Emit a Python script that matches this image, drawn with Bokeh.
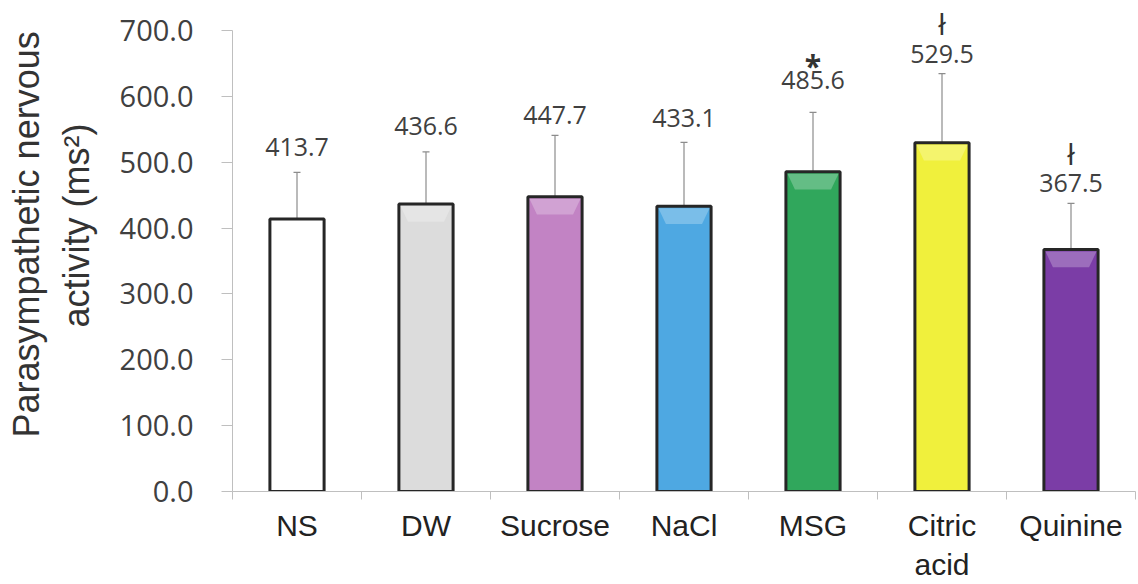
from bokeh.plotting import figure
from bokeh.models import (ColumnDataSource, Whisker, TeeHead, FixedTicker, Title,
                          Range1d, NumeralTickFormatter)
from bokeh.core.properties import value
from bokeh.embed import file_html
from bokeh.resources import INLINE

# ---------------- data ----------------
categories = ["NS", "DW", "Sucrose", "NaCl", "MSG", "Citric acid", "Quinine"]
tick_labels = ["NS", "DW", "Sucrose", "NaCl", "MSG", "Citric\nacid", "Quinine"]
means = [413.7, 436.6, 447.7, 433.1, 485.6, 529.5, 367.5]
errors = [71, 79, 93, 97, 90, 105, 70]
significance = ["", "", "", "", "*", "ł", "ł"]
y_ticks = [0, 100, 200, 300, 400, 500, 600, 700]

# ---------------- style ----------------
bar_colors = ["#ffffff", "#dcdcdc", "#c283c4", "#4ea8e2", "#30a75c", "#f0f03c", "#7b3da6"]
label_gap = [25, 26, 20, 24, 32, 20, 20]     # px between error cap and value label
sig_gap = [0, 0, 0, 0, 47, 50, 50]           # px between error cap and marker
sig_style = ["normal", "normal", "normal", "normal", "bold", "normal", "normal"]
bar_width = 0.42

x = [i + 0.5 for i in range(len(categories))]
upper = [m + e for m, e in zip(means, errors)]

src = ColumnDataSource(dict(
    x=x, cat=categories, mean=means, lower=means, upper=upper, color=bar_colors,
    label=[f"{m:.1f}" for m in means],
    label_off=[-g for g in label_gap],
    sig=significance,
    sig_off=[-g for g in sig_gap],
    sig_style=sig_style,
))

p = figure(width=1138, height=584, x_range=Range1d(0, len(categories)),
           y_range=Range1d(0, 741), output_backend="svg", toolbar_location=None,
           min_border_left=232, min_border_right=3, min_border_top=3,
           min_border_bottom=92, outline_line_color=None,
           background_fill_color="white", border_fill_color="white")

p.xgrid.visible = False
p.ygrid.visible = False

# bars
p.vbar(x="x", top="mean", bottom=0, width=bar_width, source=src,
       fill_color="color", line_color="#262626", line_width=3)

# bevel highlight at the top of each bar (derived from the bar geometry)
half, edge, inner, depth, pad = bar_width / 2, 0.012, 0.07, 24, 3
hl_xs = [[xi - half + edge, xi + half - edge, xi + half - inner, xi - half + inner] for xi in x]
hl_ys = [[m - pad, m - pad, m - pad - depth, m - pad - depth] for m in means]
p.patches(xs=hl_xs, ys=hl_ys, fill_color="white", fill_alpha=0.25, line_color=None)

# error bars (upper only)
p.add_layout(Whisker(source=src, base="x", lower="lower", upper="upper",
                     line_color="#8c8c8c", line_width=1.2,
                     upper_head=TeeHead(size=7, line_color="#8c8c8c", line_width=1.2),
                     lower_head=None))

# value labels
p.text(x="x", y="upper", text="label", source=src, y_offset="label_off",
       text_align="center", text_baseline="middle",
       text_font=value("Open Sans"), text_font_size="25px", text_color="#404040")

# significance markers
p.text(x="x", y="upper", text="sig", source=src, y_offset="sig_off",
       text_align="center", text_baseline="middle",
       text_font=value("Open Sans"), text_font_size="30px", text_color="#333333",
       text_font_style="sig_style")

# x axis
xa = p.xaxis[0]
xa.ticker = FixedTicker(ticks=x, minor_ticks=list(range(len(categories) + 1)))
xa.major_label_overrides = {xi: lab for xi, lab in zip(x, tick_labels)}
xa.major_tick_line_color = None
xa.major_tick_out = 0
xa.major_tick_in = 0
xa.minor_tick_out = 8
xa.minor_tick_in = 0
xa.minor_tick_line_color = "#bfbfbf"
xa.axis_line_color = "#bfbfbf"
xa.major_label_text_font = "Liberation Sans"
xa.major_label_text_font_size = "30px"
xa.major_label_text_color = "#222222"
xa.major_label_standoff = 9

# y axis
ya = p.yaxis[0]
ya.ticker = FixedTicker(ticks=y_ticks)
ya.bounds = (0, 700)
ya.formatter = NumeralTickFormatter(format="0.0")
ya.major_tick_out = 11
ya.major_tick_in = 0
ya.minor_tick_line_color = None
ya.major_tick_line_color = "#bfbfbf"
ya.axis_line_color = "#bfbfbf"
ya.major_label_text_font = "Open Sans"
ya.major_label_text_font_size = "29px"
ya.major_label_text_color = "#404040"
ya.major_label_standoff = 28

# y axis title (two lines)
title_font = "Liberation Sans"
t2 = Title(text="activity (ms²)", align="left", text_font=title_font,
           text_font_size="36px", text_font_style="normal", text_color="#333333",
           offset=164, standoff=40)
t1 = Title(text="Parasympathetic nervous", align="left", text_font=title_font,
           text_font_size="36px", text_font_style="normal", text_color="#333333",
           offset=54, standoff=-26)
p.add_layout(t2, "left")
p.add_layout(t1, "left")

open("out.html", "w").write(file_html(p, INLINE))
